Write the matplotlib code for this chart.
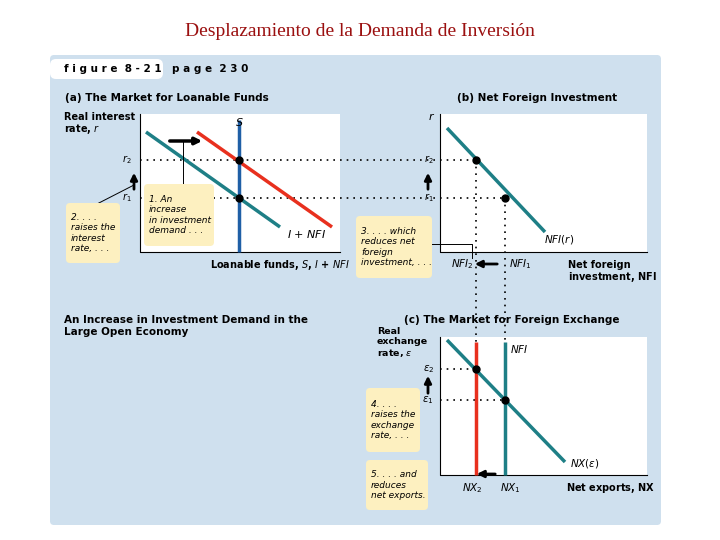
import matplotlib.pyplot as plt
from matplotlib.patches import FancyBboxPatch, Rectangle

# diagram geometry in pixel units (x right, y down)
teal_a = [(146, 132), (280, 227)]
red_a = [(197, 132), (332, 227)]
s_line = [(239, 120), (239, 252)]
eq_a = [(239, 160), (239, 198)]
nfi_b = [(447, 128), (545, 232)]
eq_b = [(476, 160), (505, 198)]
nfi2_c = [(476, 342), (476, 475)]
nfi1_c = [(505, 342), (505, 475)]
nx_c = [(447, 340), (565, 462)]
eq_c = [(476, 369), (505, 400)]

TEAL = "#1e7f86"
RED = "#e8301e"
BLUE = "#1f5fa6"
PANEL = "#cfe0ee"
NOTE = "#fdf0c0"

fig = plt.figure(figsize=(7.2, 5.4), dpi=100)
ax = fig.add_axes([0, 0, 1, 1])
ax.set_xlim(0, 720)
ax.set_ylim(540, 0)
ax.axis("off")

ax.text(360, 32, "Desplazamiento de la Demanda de Inversión", ha="center", va="center",
        fontsize=14, family="Liberation Serif", color="#9b1010")

ax.add_patch(FancyBboxPatch((50, 55), 611, 470, boxstyle="round,pad=0,rounding_size=4",
                            fc=PANEL, ec="none"))
ax.add_patch(FancyBboxPatch((50, 59), 113, 20, boxstyle="round,pad=0,rounding_size=6",
                            fc="white", ec="none"))
ax.text(64, 69, "f i g u r e  8 - 2 1", fontsize=7.5, weight="bold", va="center")
ax.text(172, 69, "p a g e  2 3 0", fontsize=7.5, weight="bold", va="center")

# white plot areas
for x0, y0, w, h in [(140, 114, 200, 138), (440, 114, 207, 138), (440, 337, 207, 138)]:
    ax.add_patch(Rectangle((x0, y0), w, h, fc="white", ec="none"))
    ax.plot([x0, x0, x0 + w], [y0, y0 + h, y0 + h], color="black", lw=0.8)

def line(pts, c, lw=2.5):
    ax.plot([p[0] for p in pts], [p[1] for p in pts], color=c, lw=lw, solid_capstyle="butt")

def dots(pts):
    ax.plot([p[0] for p in pts], [p[1] for p in pts], "o", color="black", ms=5)

dot_kw = dict(color="black", lw=1.2, ls=(0, (1, 3)))
# dotted guides
ax.plot([140, 476], [eq_a[0][1]] * 2, **dot_kw)
ax.plot([140, 505], [eq_a[1][1]] * 2, **dot_kw)
ax.plot([eq_b[0][0]] * 2, [eq_b[0][1], 342], **dot_kw)
ax.plot([eq_b[1][0]] * 2, [eq_b[1][1], 342], **dot_kw)
ax.plot([440, 476], [eq_c[0][1]] * 2, **dot_kw)
ax.plot([440, 505], [eq_c[1][1]] * 2, **dot_kw)

# panel a
line(teal_a, TEAL)
line(red_a, RED)
line(s_line, BLUE)
dots(eq_a)
ax.text(65, 98, "(a) The Market for Loanable Funds", fontsize=7.5, weight="bold", va="center")
ax.text(64, 124, "Real interest\nrate, $r$", fontsize=7, weight="bold", va="center", linespacing=1.1)
ax.text(239, 128, "$S$", fontsize=8, ha="center", va="bottom")
ax.text(287, 234, "$I$ + $NFI$", fontsize=8, va="center")
ax.text(132, 160, "$r_2$", fontsize=7, ha="right", va="center")
ax.text(132, 198, "$r_1$", fontsize=7, ha="right", va="center")
ax.annotate("", xy=(134, 170), xytext=(134, 192), arrowprops=dict(arrowstyle="-|>", lw=2, color="black"))
ax.annotate("", xy=(205, 141), xytext=(167, 141), arrowprops=dict(arrowstyle="-|>", lw=2.5, color="black"))
ax.plot([183, 183], [141, 184], color="black", lw=0.7)
ax.plot([95, 134], [205, 185], color="black", lw=0.7)
ax.text(210, 265, "Loanable funds, $S$, $I$ + $NFI$", fontsize=7, weight="bold", va="center")

# panel b
line(nfi_b, TEAL)
dots(eq_b)
ax.text(537, 98, "(b) Net Foreign Investment", fontsize=7.5, weight="bold", va="center", ha="center")
ax.text(428, 116, "$r$", fontsize=8, weight="bold", va="center")
ax.text(434, 160, "$r_2$", fontsize=7, ha="right", va="center")
ax.text(434, 198, "$r_1$", fontsize=7, ha="right", va="center")
ax.annotate("", xy=(428, 170), xytext=(428, 192), arrowprops=dict(arrowstyle="-|>", lw=2, color="black"))
ax.text(544, 240, "$NFI(r)$", fontsize=7.5, va="center")
ax.text(451, 264, "$NFI_2$", fontsize=7.5, va="center")
ax.text(509, 264, "$NFI_1$", fontsize=7.5, va="center")
ax.annotate("", xy=(472, 264), xytext=(500, 264), arrowprops=dict(arrowstyle="-|>", lw=2, color="black"))
ax.plot([432, 472, 472], [244, 244, 258], color="black", lw=0.7)
ax.text(568, 272, "Net foreign\ninvestment, $\\mathbf{NFI}$", fontsize=7, weight="bold", va="center", linespacing=1.1)

# panel c
line(nfi2_c, RED)
line(nfi1_c, TEAL)
line(nx_c, TEAL)
dots(eq_c)
ax.text(512, 320, "(c) The Market for Foreign Exchange", fontsize=7.5, weight="bold", va="center", ha="center")
ax.text(377, 343, "Real\nexchange\nrate, $\\epsilon$", fontsize=6.8, weight="bold", va="center", linespacing=1.1)
ax.text(510, 349, "$NFI$", fontsize=7.5, va="center")
ax.text(434, 369, "$\\epsilon_2$", fontsize=7.5, ha="right", va="center")
ax.text(434, 400, "$\\epsilon_1$", fontsize=7.5, ha="right", va="center")
ax.annotate("", xy=(428, 373), xytext=(428, 396), arrowprops=dict(arrowstyle="-|>", lw=2, color="black"))
ax.text(570, 463, "$NX(\\epsilon)$", fontsize=7.5, va="center")
ax.text(462, 488, "$NX_2$", fontsize=7.5, va="center")
ax.text(500, 488, "$NX_1$", fontsize=7.5, va="center")
ax.annotate("", xy=(474, 474), xytext=(498, 474), arrowprops=dict(arrowstyle="-|>", lw=2, color="black"))
ax.text(566, 488, "Net exports, $\\mathbf{NX}$", fontsize=7, weight="bold", va="center")

ax.text(64, 326, "An Increase in Investment Demand in the\nLarge Open Economy", fontsize=7.5,
        weight="bold", va="center", linespacing=1.3)

# notes
notes = [
    (66, 203, 54, 60, "2. . . .\nraises the\ninterest\nrate, . . ."),
    (144, 184, 70, 62, "1. An\nincrease\nin investment\ndemand . . ."),
    (356, 216, 76, 62, "3. . . . which\nreduces net\nforeign\ninvestment, . . ."),
    (366, 388, 54, 64, "4. . . .\nraises the\nexchange\nrate, . . ."),
    (366, 460, 62, 50, "5. . . . and\nreduces\nnet exports."),
]
for x0, y0, w, h, t in notes:
    ax.add_patch(FancyBboxPatch((x0, y0), w, h, boxstyle="round,pad=0,rounding_size=4",
                                fc=NOTE, ec="none", zorder=5))
    ax.text(x0 + 5, y0 + h / 2, t, fontsize=6.5, style="italic", va="center", linespacing=1.2, zorder=6)

fig.savefig("out.png", dpi=100)
